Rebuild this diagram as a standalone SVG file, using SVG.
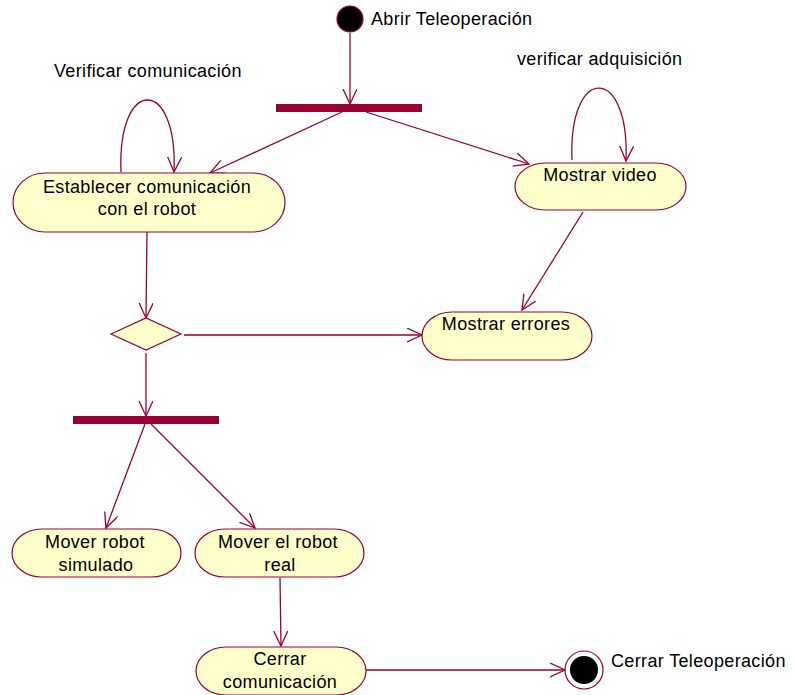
<svg xmlns="http://www.w3.org/2000/svg" width="794" height="695" viewBox="0 0 794 695">
  <style>
    .act { fill: #FFFFCC; stroke: #990033; stroke-width: 1.2; }
    .bar { fill: #990033; }
    .edge { fill: none; stroke: #990033; stroke-width: 1.3; }
    .lbl { font-family: "Liberation Sans", Arial, sans-serif; font-size: 18px; letter-spacing: 0.35px; fill: #000; }
    .mid { text-anchor: middle; }
  </style>
  <defs>
    <marker id="open" markerUnits="userSpaceOnUse" markerWidth="20" markerHeight="20" refX="15" refY="7" orient="auto">
      <path d="M0,0 L15,7 L0,14" fill="none" stroke="#990033" stroke-width="1.3"/>
    </marker>
  </defs>

  <rect width="794" height="695" fill="#FFFFFF"/>

  <!-- connectors -->
  <g id="connectors">
    <path class="edge" d="M350,33 L350,104" marker-end="url(#open)"/>
    <path class="edge" d="M342,112 L210,173" marker-end="url(#open)"/>
    <path class="edge" d="M366,112 L529,164" marker-end="url(#open)"/>
    <path class="edge" d="M121,172 C117,76 178,76 174,172" marker-end="url(#open)"/>
    <path class="edge" d="M572,160 C568,64 630,64 626,161" marker-end="url(#open)"/>
    <path class="edge" d="M583,212 L522,310" marker-end="url(#open)"/>
    <path class="edge" d="M147,232 L146,318" marker-end="url(#open)"/>
    <path class="edge" d="M184,335 L422,335" marker-end="url(#open)"/>
    <path class="edge" d="M146,353 L146,416" marker-end="url(#open)"/>
    <path class="edge" d="M145,424 L106,528" marker-end="url(#open)"/>
    <path class="edge" d="M151,424 L255,528" marker-end="url(#open)"/>
    <path class="edge" d="M280,578 L281,646" marker-end="url(#open)"/>
    <path class="edge" d="M366,670 L565,670" marker-end="url(#open)"/>
  </g>

  <!-- initial state -->
  <g id="inicio">
    <circle cx="350" cy="19" r="13" fill="#000" stroke="#990033" stroke-width="1.2"/>
    <text class="lbl" x="371" y="25">Abrir Teleoperación</text>
  </g>

  <!-- fork bars -->
  <g id="fork1"><rect class="bar" x="276" y="104" width="146" height="8"/></g>
  <g id="fork2"><rect class="bar" x="73" y="416" width="146" height="8"/></g>

  <!-- self-transition labels -->
  <g id="lbl-verificar-com"><text class="lbl" x="54" y="77">Verificar comunicación</text></g>
  <g id="lbl-verificar-adq"><text class="lbl" x="517" y="65">verificar adquisición</text></g>

  <g id="establecer">
    <rect class="act" x="13" y="173" width="272" height="59" rx="32" ry="29.5"/>
    <text class="lbl mid" x="147" y="193">Establecer comunicación</text>
    <text class="lbl mid" x="147" y="215">con el robot</text>
  </g>

  <g id="mostrar-video">
    <rect class="act" x="515" y="163" width="171" height="47" rx="30" ry="23.5"/>
    <text class="lbl mid" x="600" y="181">Mostrar video</text>
  </g>

  <g id="decision">
    <polygon class="act" points="111,334 146,318 181,334 146,350"/>
  </g>

  <g id="mostrar-errores">
    <rect class="act" x="422" y="312" width="170" height="48" rx="30" ry="24"/>
    <text class="lbl mid" x="506" y="330">Mostrar errores</text>
  </g>

  <g id="mover-simulado">
    <rect class="act" x="12" y="529" width="169" height="48" rx="30" ry="24"/>
    <text class="lbl mid" x="95" y="548">Mover robot</text>
    <text class="lbl mid" x="96" y="571">simulado</text>
  </g>

  <g id="mover-real">
    <rect class="act" x="195" y="529" width="169" height="48" rx="30" ry="24"/>
    <text class="lbl mid" x="278" y="548">Mover el robot</text>
    <text class="lbl mid" x="280" y="571">real</text>
  </g>

  <g id="cerrar-com">
    <rect class="act" x="196" y="647" width="170" height="48" rx="30" ry="24"/>
    <text class="lbl mid" x="280" y="665">Cerrar</text>
    <text class="lbl mid" x="280" y="688">comunicación</text>
  </g>

  <!-- final state -->
  <g id="fin">
    <circle cx="584" cy="670" r="19" fill="#FFFFFF" stroke="#990033" stroke-width="1.2"/>
    <circle cx="584" cy="670" r="14" fill="#000"/>
    <text class="lbl" x="611" y="667">Cerrar Teleoperación</text>
  </g>
</svg>
